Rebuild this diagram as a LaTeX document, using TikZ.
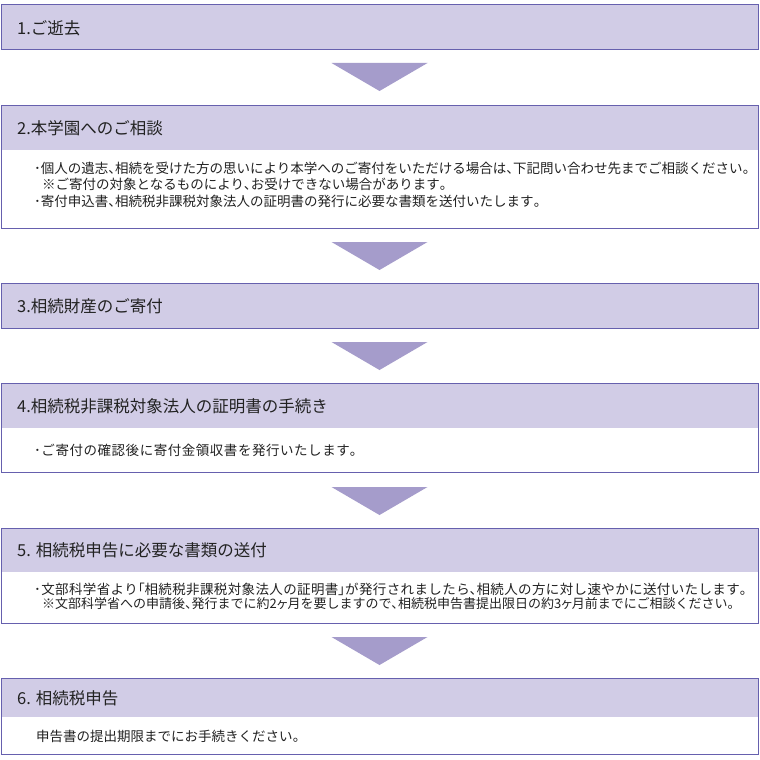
\documentclass[tikz,border=0pt]{standalone}
\usepackage{fontspec}
\newfontfamily\jp{Noto Sans CJK JP}
\newfontfamily\jpp[RawFeature=+palt]{Noto Sans CJK JP}
\newcommand\pu[1]{{\jpp #1}}
\usetikzlibrary{calc}
\definecolor{hdrfill}{HTML}{D1CCE6}
\definecolor{bordc}{HTML}{6660AE}
\definecolor{arrc}{HTML}{A59CCB}
\definecolor{txtc}{HTML}{222222}
\begin{document}
\begin{tikzpicture}[x=1pt,y=-1pt,
 hdr/.style={fill=hdrfill, inner sep=0, outer sep=0, minimum width=757pt, anchor=north west},
 frame/.style={draw=bordc, line width=1pt, inner sep=0, outer sep=0, minimum width=757pt, anchor=north west},
 htext/.style={anchor=west, inner sep=0, font=\jp\fontsize{16.5}{18}\selectfont, text=txtc},
 btext/.style={anchor=west, inner sep=0, font=\jp\fontsize{13.5}{15}\selectfont, text=txtc},
 arr/.style={fill=arrc}]
\fill[white] (0,0) rectangle (760,760);
\useasboundingbox (0,0) rectangle (760,760);
% box 1
\node[hdr, minimum height=45pt] (h1) at (1,5) {};
\node[frame, minimum height=45pt] (b1) at (1,5) {};
\node[htext] (t1) at (17,28) {1.ご逝去};
% box 2
\node[hdr, minimum height=45pt] (h2) at (1,105) {};
\node[frame, minimum height=123pt] (b2) at (1,105) {};
\node[htext] (t2) at (17,128) {2.本学園へのご相談};
\node[btext] (t2a) at (34,168) {･個人の遺志\pu{、}相続を受けた方の思いにより本学へのご寄付をいただける場合は\pu{、}下記問い合わせ先までご相談ください\pu{。}};
\node[btext] (t2b) at (42,184) {※ご寄付の対象となるものにより\pu{、}お受けできない場合があります\pu{。}};
\node[btext] (t2c) at (34,201) {･寄付申込書\pu{、}相続税非課税対象法人の証明書の発行に必要な書類を送付いたします\pu{。}};
% box 3
\node[hdr, minimum height=45pt] (h3) at (1,283) {};
\node[frame, minimum height=45pt] (b3) at (1,283) {};
\node[htext] (t3) at (17,306) {3.相続財産のご寄付};
% box 4
\node[hdr, minimum height=45pt] (h4) at (1,383) {};
\node[frame, minimum height=89pt] (b4) at (1,383) {};
\node[htext] (t4) at (17,406) {4.相続税非課税対象法人の証明書の手続き};
\node[btext] (t4a) at (34,450) {\addfontfeature{LetterSpace=4}･ご寄付の確認後に寄付金領収書を発行いたします\pu{。}};
% box 5
\node[hdr, minimum height=44pt] (h5) at (1,528) {};
\node[frame, minimum height=95pt] (b5) at (1,528) {};
\node[htext] (t5) at (17,550) {5. 相続税申告に必要な書類の送付};
\node[btext] (t5a) at (34,589) {\addfontfeature{LetterSpace=2.8}･文部科学省より\pu{「}相続税非課税対象法人の証明書\pu{」}が発行されましたら\pu{、}相続人の方に対し速やかに送付いたします\pu{。}};
\node[btext, font=\jp\fontsize{13}{15}\selectfont] (t5b) at (42,604) {※文部科学省への申請後\pu{、}発行までに約2\pu{ヶ}月を要しますので\pu{、}相続税申告書提出限日の約3\pu{ヶ}月前までにご相談ください\pu{。}};
% box 6
\node[hdr, minimum height=39pt] (h6) at (1,678) {};
\node[frame, minimum height=76pt] (b6) at (1,678) {};
\node[htext] (t6) at (17,698) {6. 相続税申告};
\node[btext] (t6a) at (36,736) {申告書の提出期限までにお手続きください\pu{。}};
% arrows
\fill[arr] ($(b1.south)+(-48,13)$) -- ($(b1.south)+(48,13)$) -- ($(b2.north)+(0,-14)$) -- cycle;
\fill[arr] ($(b2.south)+(-48,14)$) -- ($(b2.south)+(48,14)$) -- ($(b3.north)+(0,-13)$) -- cycle;
\fill[arr] ($(b3.south)+(-48,14)$) -- ($(b3.south)+(48,14)$) -- ($(b4.north)+(0,-13)$) -- cycle;
\fill[arr] ($(b4.south)+(-48,15)$) -- ($(b4.south)+(48,15)$) -- ($(b5.north)+(0,-13)$) -- cycle;
\fill[arr] ($(b5.south)+(-48,14)$) -- ($(b5.south)+(48,14)$) -- ($(b6.north)+(0,-13)$) -- cycle;
\end{tikzpicture}
\end{document}
